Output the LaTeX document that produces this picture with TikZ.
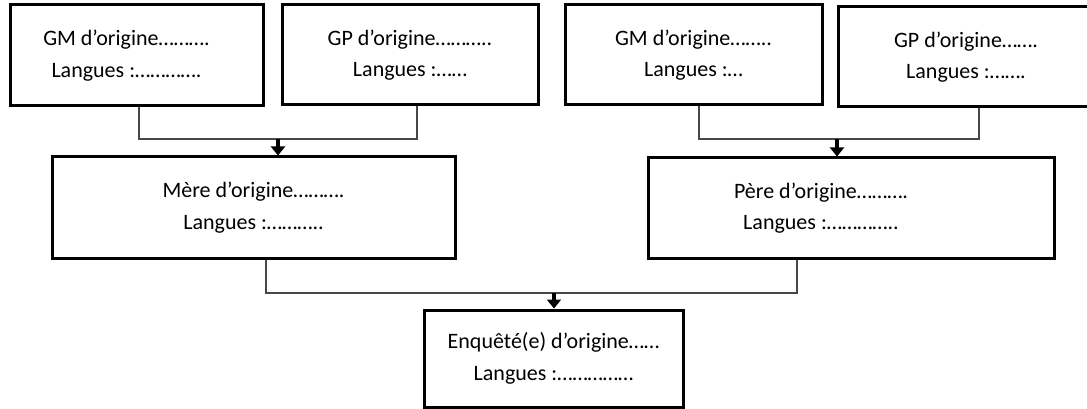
\documentclass[tikz,border=0pt]{standalone}
\usepackage{fontspec}
\setmainfont{Carlito}
\usetikzlibrary{arrows.meta}
\begin{document}
\begin{tikzpicture}[x=1pt,y=-1pt,
  txt/.style={inner sep=0pt, align=center, font=\fontsize{22}{31.5}\selectfont},
  box/.style={txt, draw=black, line width=3pt, fill=white},
  link/.style={draw=black!72, line width=1.4pt},
  arr/.style={draw=black, line width=4pt, -{Triangle[width=14pt,length=9pt]}}]
\useasboundingbox (0,0) rectangle (1087,409);
\clip (0,0) rectangle (1087,409);
\fill[white] (0,0) rectangle (1087,409);

% grandparents
\node[box, minimum width=253pt, minimum height=101pt] (gm1) at (136.5,55.5) {};
\node[txt] (gm1t) at ([xshift=-10pt]gm1.center) {GM d’origine……….\\Langues :………….};
\node[box, minimum width=256pt, minimum height=100pt] (gp1) at (410,55)
  {GP d’origine………..\\Langues :……};
\node[box, minimum width=257pt, minimum height=100pt] (gm2) at (693.5,55)
  {GM d’origine……..\\Langues :…};
\node[box, minimum width=256pt, minimum height=100pt] (gp2) at (966,57)
  {GP d’origine…….\\Langues :…….};

% parents
\node[box, minimum width=403pt, minimum height=101pt] (mere) at (253.5,207.5)
  {Mère d’origine……….\\Langues :………..};
\node[box, minimum width=406pt, minimum height=100pt] (pere) at (851,208) {};
\node[txt] (peret) at ([xshift=-30pt]pere.center) {Père d’origine……….\\Langues :…………..};

% respondent
\node[box, minimum width=259pt, minimum height=97pt] (enq) at (553.5,358.5)
  {Enquêté(e) d’origine……\\Langues :……………};

% junction points
\coordinate (jm) at (278,139);
\coordinate (jp) at (837,139);
\coordinate (je) at (554,293);

% connectors
\draw[link] ([xshift=2.5pt]gm1.south) |- (jm) -| ([xshift=7pt]gp1.south);
\draw[arr] (jm) -- (jm |- mere.north);

\draw[link] ([xshift=5.5pt]gm2.south) |- (jp) -| ([xshift=13pt]gp2.south);
\draw[arr] (jp) -- (jp |- pere.north);

\draw[link] ([xshift=12.5pt]mere.south) |- (je) -| ([xshift=-54pt]pere.south);
\draw[arr] (je) -- (je |- enq.north);
\end{tikzpicture}
\end{document}
